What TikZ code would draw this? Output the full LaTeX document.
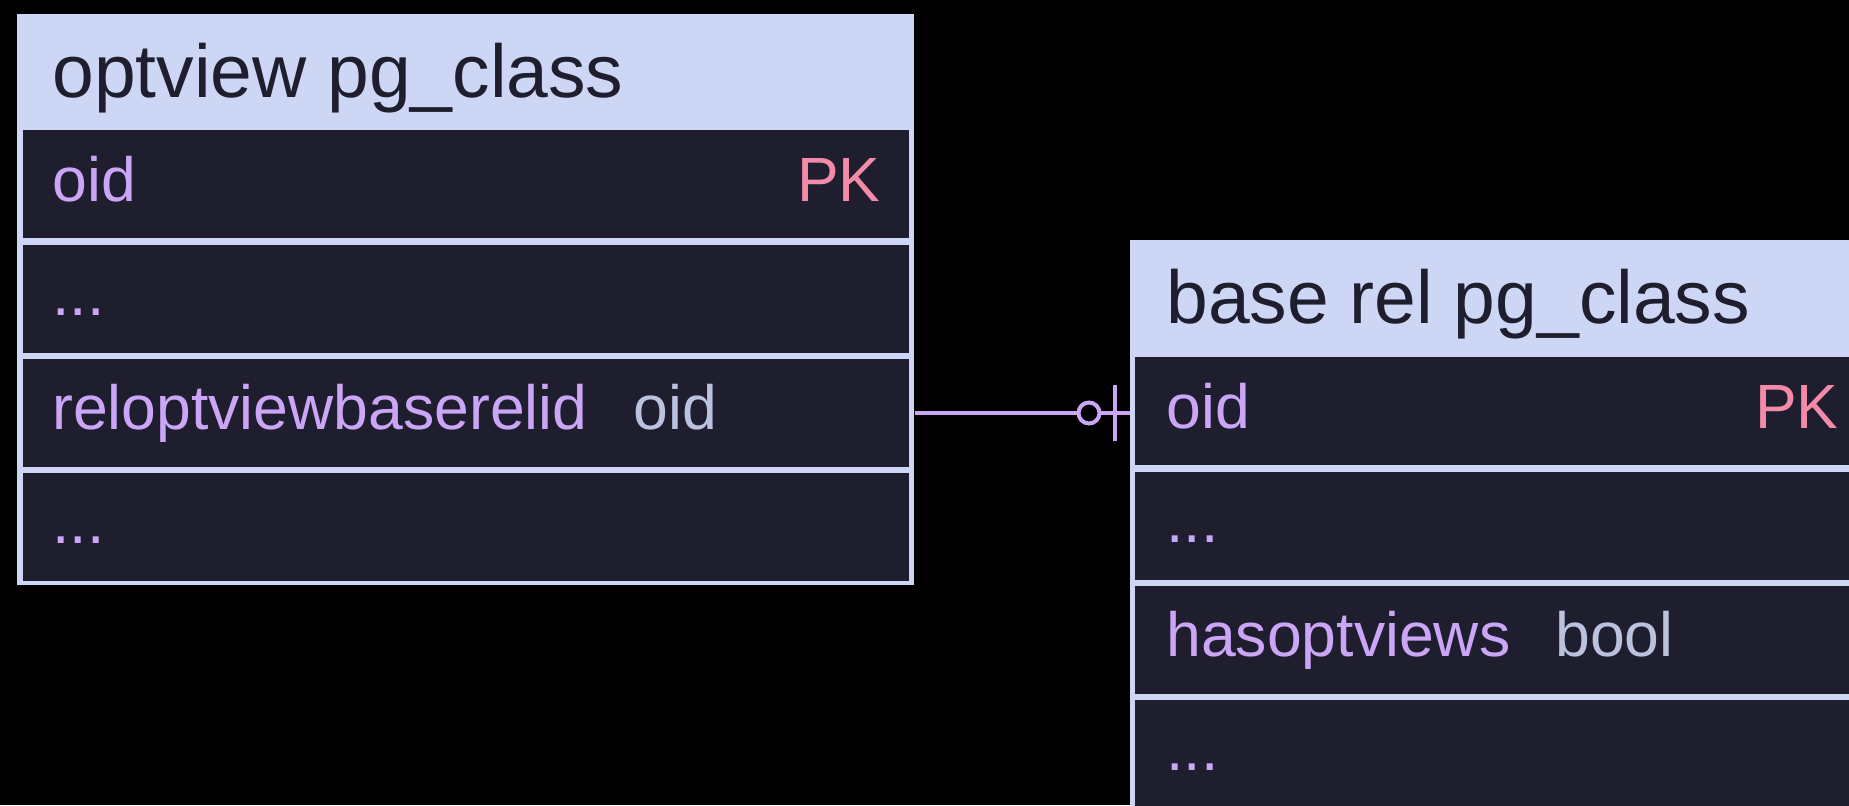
\documentclass[tikz,border=0pt]{standalone}
\usepackage{fontspec}
\setmainfont{Liberation Sans}
\usetikzlibrary{calc}
\definecolor{hdr}{HTML}{CDD6F4}
\definecolor{rowbg}{HTML}{1E1E2E}
\definecolor{ttlcol}{HTML}{1E1E2E}
\definecolor{mauve}{HTML}{CBA6F7}
\definecolor{subtext}{HTML}{BAC2DE}
\definecolor{pkcol}{HTML}{F38BA8}
\tikzset{
  tablebox/.style={fill=hdr, draw=none, inner sep=0pt, anchor=north west},
  rowbox/.style={fill=rowbg, draw=none, inner sep=0pt, anchor=north west, minimum height=54pt},
  ttl/.style={font=\fontsize{37.5}{40}\selectfont, text=ttlcol, anchor=base west, inner sep=0pt},
  attr/.style={font=\fontsize{31.25}{34}\selectfont, text=mauve, anchor=base west, inner sep=0pt},
  typ/.style={font=\fontsize{31.25}{34}\selectfont, text=subtext, anchor=base west, inner sep=0pt},
  keycol/.style={font=\fontsize{31.25}{34}\selectfont, text=pkcol, anchor=base east, inner sep=0pt},
  conn/.style={draw=mauve, line width=2pt},
}
\begin{document}
\begin{tikzpicture}[x=0.5pt, y=-0.5pt]
  \useasboundingbox (0,0) rectangle (1849,805);
  \clip (0,0) rectangle (1849,805);
  \fill[black] (0,0) rectangle (1849,805);

  % optview pg_class
  \node[tablebox, minimum width=448.5pt, minimum height=285.5pt] (LT) at (17,14) {};
  \node[rowbox, minimum width=443.25pt] (L1) at (22.5,130) {};
  \node[rowbox, minimum width=443.25pt] (L2) at (22.5,244.3) {};
  \node[rowbox, minimum width=443.25pt] (L3) at (22.5,358.6) {};
  \node[rowbox, minimum width=443.25pt] (L4) at (22.5,472.9) {};
  \node[ttl] (LTt) at (52,97.5) {optview pg\_class};
  \node[attr] (L1a) at (52,201) {oid};
  \node[keycol] (L1k) at (881,201) {PK};
  \node[attr] (L2a) at (52,315.3) {...};
  \node[attr] (L3a) at (52,429.6) {reloptviewbaserelid};
  \node[typ] (L3t) at (633,429.6) {oid};
  \node[attr] (L4a) at (52,543.9) {...};

  % base rel pg_class
  \node[tablebox, minimum width=371pt, minimum height=300pt] (RT) at (1130,240) {};
  \node[rowbox, minimum width=366pt] (R1) at (1135,357) {};
  \node[rowbox, minimum width=366pt] (R2) at (1135,471.2) {};
  \node[rowbox, minimum width=366pt] (R3) at (1135,585.4) {};
  \node[rowbox, minimum width=366pt, minimum height=70pt] (R4) at (1135,699.6) {};
  \node[ttl] (RTt) at (1166,323) {base rel pg\_class};
  \node[attr] (R1a) at (1166,428) {oid};
  \node[keycol] (R1k) at (1839,428) {PK};
  \node[attr] (R2a) at (1166,542.2) {...};
  \node[attr] (R3a) at (1166,656.4) {hasoptviews};
  \node[typ] (R3t) at (1555,656.4) {bool};
  \node[attr] (R4a) at (1166,770.6) {...};

  % relationship: zero-or-one at the base relation end
  \coordinate (cs) at (LT.east |- L3.center);
  \coordinate (ce) at (RT.west |- L3.center);
  \draw[conn] (cs) -- (ce);
  \draw[conn, fill=black] ($(ce)+(-41,0)$) circle (5.25pt);
  \draw[conn] ($(ce)+(-15,-28)$) -- ($(ce)+(-15,28)$);
\end{tikzpicture}
\end{document}
